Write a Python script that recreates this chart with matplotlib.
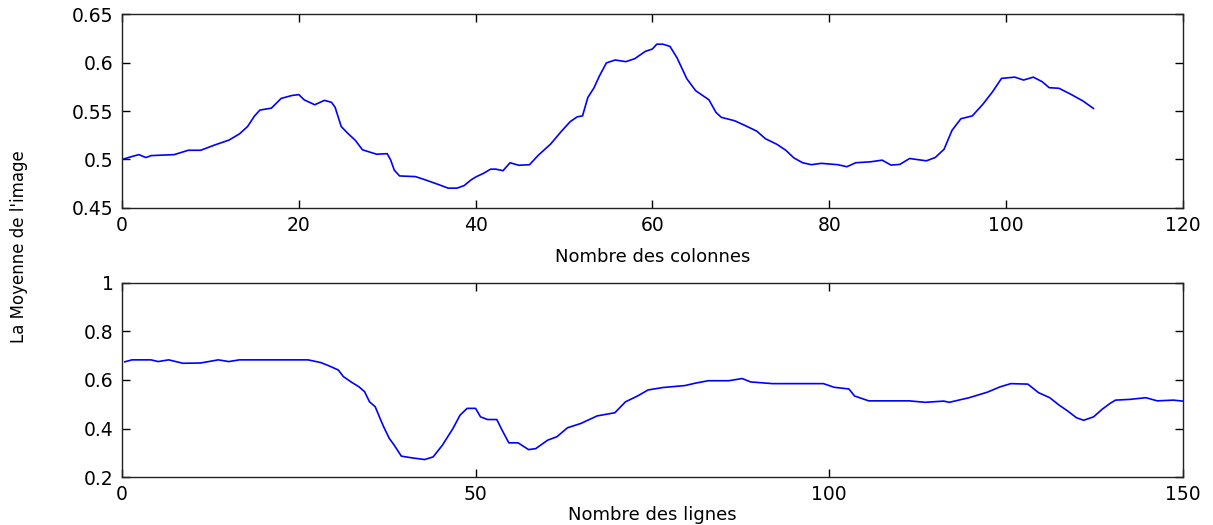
import numpy as np
import matplotlib
matplotlib.use('Agg')
from matplotlib import pyplot as plt

# top panel: mean per column
col_x = [0, 1.1, 1.9, 2.7, 3.3, 5.9, 7.5, 8.9, 10.5, 12.1, 13.3, 14.2, 15.0, 15.6, 16.9,
         18.0, 19.2, 20.0, 20.6, 21.8, 22.9, 23.7, 24.1, 24.8, 25.6, 26.4, 27.2, 28.8,
         30.0, 30.4, 30.8, 31.4, 33.2, 34.3, 35.9, 36.9, 37.9, 38.7, 39.5, 40.1, 40.9,
         41.7, 42.3, 43.1, 43.9, 44.9, 46.1, 47.1, 48.5, 49.7, 50.7, 51.5, 52.1, 52.7,
         53.4, 54.0, 54.8, 55.8, 57.0, 58.0, 59.2, 60.0, 60.5, 61.2, 62.0, 62.8, 63.9,
         64.9, 66.4, 67.2, 67.8, 69.3, 70.5, 71.8, 72.8, 74.1, 75.1, 76.0, 77.0, 78.0,
         79.1, 81.0, 82.0, 83.0, 84.7, 86.0, 87.0, 88.0, 89.1, 91.0, 92.0, 93.0, 93.9,
         94.9, 96.2, 97.4, 98.5, 99.5, 101.0, 102.0, 103.1, 104.1, 104.9, 106.0, 107.2,
         108.7, 109.9]
col_y = [0.500, 0.503, 0.505, 0.502, 0.504, 0.505, 0.5095, 0.5095, 0.515, 0.520, 0.5265,
         0.534, 0.545, 0.551, 0.553, 0.563, 0.566, 0.567, 0.5616, 0.5565, 0.561, 0.559,
         0.554, 0.534, 0.5265, 0.5197, 0.510, 0.5054, 0.506, 0.4993, 0.489, 0.483, 0.4823,
         0.479, 0.4738, 0.4704, 0.4704, 0.473, 0.479, 0.4823, 0.4857, 0.490, 0.490, 0.4884,
         0.4966, 0.494, 0.4946, 0.5044, 0.516, 0.529, 0.539, 0.544, 0.545, 0.564, 0.574,
         0.586, 0.5997, 0.6027, 0.601, 0.604, 0.6116, 0.614, 0.619, 0.619, 0.6167, 0.6048,
         0.5833, 0.571, 0.5616, 0.5486, 0.5435, 0.540, 0.535, 0.5293, 0.5214, 0.5156,
         0.5095, 0.5017, 0.4966, 0.4946, 0.496, 0.4946, 0.4925, 0.4966, 0.4976, 0.4993,
         0.4942, 0.4949, 0.501, 0.4986, 0.502, 0.5105, 0.530, 0.542, 0.545, 0.5571, 0.570,
         0.5837, 0.585, 0.582, 0.585, 0.5803, 0.5741, 0.5735, 0.568, 0.5605, 0.5527]

# bottom panel: mean per row
row_x = [0.4, 1.4, 4.1, 5.1, 6.6, 8.6, 11.1, 13.6, 15.1, 16.6, 26.3, 28.1, 29.3, 30.6,
         31.3, 32.5, 33.5, 34.3, 35.0, 35.8, 36.5, 37.0, 37.8, 38.5, 39.5, 41.0, 42.8,
         44.0, 45.3, 46.8, 47.8, 48.8, 50.0, 50.7, 51.7, 53.0, 53.7, 54.7, 56.0, 57.5,
         58.5, 60.2, 61.5, 63.0, 64.9, 67.2, 69.7, 71.2, 72.9, 74.4, 76.5, 79.6, 81.1,
         82.9, 85.8, 87.7, 88.9, 92.0, 99.2, 100.7, 102.8, 103.6, 105.6, 111.3, 113.6,
         116.2, 117.0, 119.8, 122.4, 124.2, 125.7, 128.1, 129.6, 131.2, 132.5, 133.7,
         135.0, 136.0, 137.4, 138.6, 139.7, 140.5, 142.5, 144.8, 146.4, 148.7, 150.0]
row_y = [0.675, 0.683, 0.683, 0.676, 0.683, 0.669, 0.670, 0.683, 0.676, 0.683, 0.683,
         0.672, 0.658, 0.641, 0.614, 0.590, 0.572, 0.552, 0.510, 0.490, 0.441, 0.407,
         0.359, 0.331, 0.286, 0.279, 0.272, 0.283, 0.331, 0.400, 0.455, 0.483, 0.483,
         0.448, 0.437, 0.437, 0.396, 0.341, 0.341, 0.313, 0.317, 0.352, 0.366, 0.403,
         0.421, 0.452, 0.465, 0.510, 0.534, 0.559, 0.569, 0.577, 0.587, 0.597, 0.597,
         0.606, 0.592, 0.585, 0.585, 0.570, 0.563, 0.534, 0.514, 0.514, 0.508, 0.513,
         0.508, 0.527, 0.550, 0.572, 0.585, 0.583, 0.548, 0.527, 0.497, 0.473, 0.444,
         0.434, 0.448, 0.479, 0.503, 0.517, 0.520, 0.527, 0.514, 0.517, 0.513]

plt.rcParams['font.family'] = 'DejaVu Sans'

fig = plt.figure(figsize=(12.13, 5.25), dpi=100)
ax1 = fig.add_axes([0.1006, 0.604, 0.8744, 0.369])
ax2 = fig.add_axes([0.1006, 0.0914, 0.8744, 0.3696])

ax1.plot(col_x, col_y, color='#0000ff', lw=1.2)
ax1.set_xlim(0, 120)
ax1.set_ylim(0.45, 0.65)
ax1.set_xticks(np.arange(0, 121, 20))
ax1.set_yticks([0.45, 0.5, 0.55, 0.6, 0.65])
ax1.set_yticklabels(['0.45', '0.5', '0.55', '0.6', '0.65'])
ax1.set_xlabel('Nombre des colonnes', fontsize=13, labelpad=9)

ax2.plot(row_x, row_y, color='#0000ff', lw=1.2)
ax2.set_xlim(0, 150)
ax2.set_ylim(0.2, 1)
ax2.set_xticks([0, 50, 100, 150])
ax2.set_yticks([0.2, 0.4, 0.6, 0.8, 1])
ax2.set_yticklabels(['0.2', '0.4', '0.6', '0.8', '1'])
ax2.set_xlabel('Nombre des lignes', fontsize=13, labelpad=1)

for ax in (ax1, ax2):
    ax.tick_params(direction='in', top=True, right=True, length=6, width=1,
                   labelsize=13.5, pad=6)
    for s in ax.spines.values():
        s.set_linewidth(1)
        s.set_color('#222222')

fig.text(0.016, 0.53, "La Moyenne de l'image", rotation=90, fontsize=12,
         ha='center', va='center')

fig.savefig('out.png', dpi=100)
